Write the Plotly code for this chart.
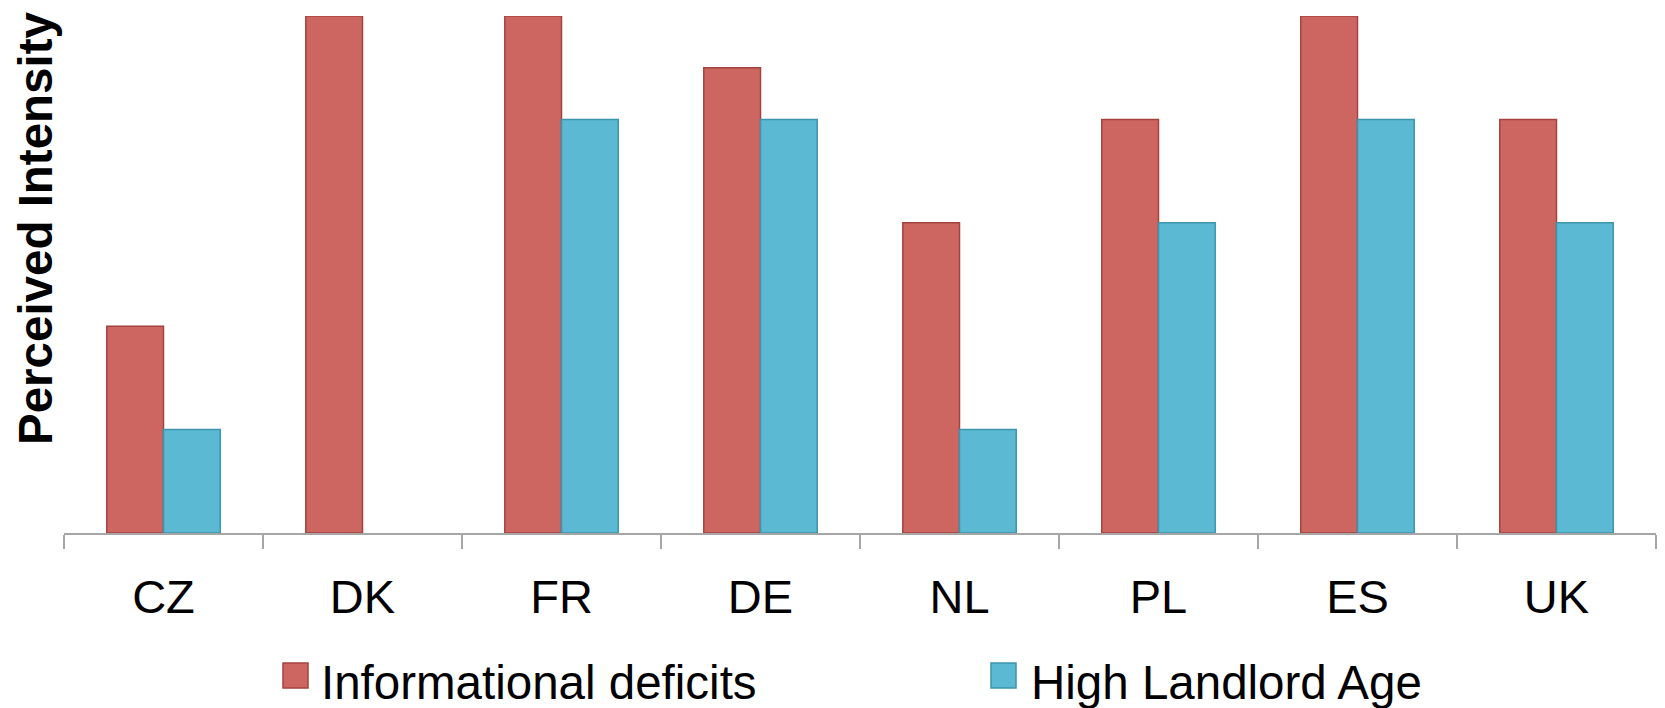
import plotly.graph_objects as go

# Perceived intensity of two barriers, by country
countries = ["CZ", "DK", "FR", "DE", "NL", "PL", "ES", "UK"]
informational_deficits = [2, 5, 5, 4.5, 3, 4, 5, 4]
high_landlord_age = [1, None, 4, 4, 1, 3, 4, 3]

series_names = ["Informational deficits", "High Landlord Age"]
fill_colors = ["#CD6660", "#5BB9D3"]
edge_colors = ["#A4433E", "#3D95AC"]

W, H = 1665, 708
L, R, T, B = 64, 9, 16, 175
plot_h = H - T - B
plot_w = W - L - R

FONT = "Liberation Sans, Arial, sans-serif"

fig = go.Figure()
for name, vals, fc, ec in zip(series_names, [informational_deficits, high_landlord_age],
                              fill_colors, edge_colors):
    fig.add_trace(go.Bar(
        x=countries, y=vals, name=name,
        marker=dict(color=fc, line=dict(color=ec, width=1.5)),
        showlegend=False,
    ))

def px_to_paper_y(p):
    return (H - B - p) / plot_h

def px_to_paper_x(p):
    return (p - L) / plot_w

# Legend drawn as squares and labels below the axis
legend_items = [(283, 322), (991, 1032)]
shapes = []
annotations = []
for (sq_x, tx_x), name, fc, ec in zip(legend_items, series_names, fill_colors, edge_colors):
    shapes.append(dict(
        type="rect", xref="paper", yref="paper",
        x0=px_to_paper_x(sq_x), x1=px_to_paper_x(sq_x + 25),
        y0=px_to_paper_y(688), y1=px_to_paper_y(663),
        fillcolor=fc, line=dict(color=ec, width=1.5),
    ))
    annotations.append(dict(
        text=name, xref="paper", yref="paper",
        x=px_to_paper_x(tx_x - 3), y=px_to_paper_y(682),
        xanchor="left", yanchor="middle", showarrow=False,
        font=dict(family=FONT, size=47.5, color="#000000"),
    ))

# Vertical axis title
annotations.append(dict(
    text="<b>Perceived Intensity</b>", xref="paper", yref="paper",
    x=px_to_paper_x(35), y=px_to_paper_y(228),
    xanchor="center", yanchor="middle", textangle=-90, showarrow=False,
    font=dict(family=FONT, size=47.5, color="#000000"),
))

fig.update_layout(
    width=W, height=H,
    margin=dict(l=L, r=R, t=T, b=B, autoexpand=False),
    paper_bgcolor="white", plot_bgcolor="white",
    barmode="group", bargap=0.43, bargroupgap=0,
    font=dict(family=FONT, size=47, color="#000000"),
    shapes=shapes, annotations=annotations,
    xaxis=dict(
        type="category", range=[-0.5, len(countries) - 0.5],
        showline=True, linecolor="#A6A6A6", linewidth=2,
        ticks="outside", tickson="boundaries", ticklen=14,
        tickcolor="#A6A6A6", tickwidth=2,
        tickfont=dict(family=FONT, size=47, color="#000000"),
        showgrid=False, zeroline=False, ticklabelstandoff=22,
    ),
    yaxis=dict(
        range=[0, 5], showline=False, showgrid=False, zeroline=False,
        showticklabels=False, ticks="",
    ),
)

fig.write_html("out.html")
